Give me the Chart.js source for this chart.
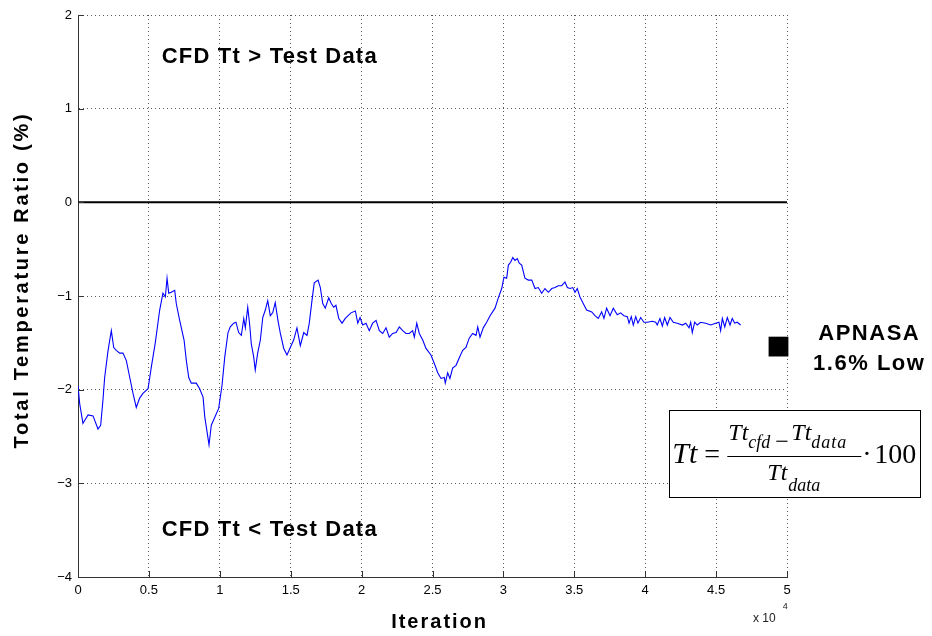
<!DOCTYPE html>
<html>
<head>
<meta charset="utf-8">
<script src="https://cdn.jsdelivr.net/npm/chart.js@4.4.1/dist/chart.umd.min.js"></script>
<style>
  body { margin: 0; background: #fff; }
  #wrap { width: 932px; height: 636px; }
</style>
</head>
<body>
<div id="wrap"><canvas id="ttchart" width="932" height="636"></canvas></div>
<script>
// iteration count and CFD/test total temperature ratio (%)
const iterations = [
  0, 120, 350, 470, 710, 1060, 1410, 1600, 1760, 1880,
  2120, 2350, 2520, 2700, 2940, 3170, 3410, 3650, 3880, 4110,
  4350, 4580, 4940, 5170, 5450, 5760, 5990, 6160, 6280, 6400,
  6580, 6820, 6930, 7170, 7480, 7640, 7810, 7990, 8340, 8580,
  8820, 8940, 9120, 9240, 9400, 9920, 10160, 10350, 10580, 10740,
  10980, 11140, 11330, 11520, 11690, 11800, 11970, 12110, 12220, 12390,
  12500, 12670, 12860, 13030, 13210, 13380, 13560, 13730, 13910, 14100,
  14270, 14510, 14740, 14970, 15210, 15440, 15680, 15920, 16150, 16310,
  16500, 16660, 16930, 17090, 17260, 17440, 17680, 17860, 18030, 18190,
  18390, 18620, 18850, 19250, 19560, 19730, 19890, 20080, 20310, 20540,
  20780, 21020, 21250, 21490, 21720, 21950, 22190, 22430, 22660, 22900,
  23130, 23360, 23600, 23720, 23890, 24070, 24310, 24540, 24890, 25130,
  25370, 25600, 25830, 25900, 26070, 26230, 26420, 26660, 26890, 27130,
  27360, 27590, 27830, 28070, 28190, 28350, 28580, 28820, 29060, 29410,
  29640, 29880, 30040, 30230, 30350, 30510, 30660, 30820, 30980, 31120,
  31290, 31520, 31760, 32000, 32230, 32460, 32700, 32930, 33170, 33410,
  33640, 33870, 34110, 34340, 34510, 34700, 34890, 35050, 35210, 35400,
  35630, 35870, 36230, 36460, 36690, 36930, 37090, 37280, 37520, 37750,
  38030, 38270, 38500, 38740, 38860, 39020, 39160, 39330, 39490, 39680,
  39910, 40150, 40500, 40740, 40850, 41040, 41210, 41370, 41560, 41750,
  41980, 42260, 42620, 42860, 43090, 43210, 43320, 43490, 43670, 43910,
  44270, 44620, 44970, 45200, 45320, 45440, 45610, 45790, 45980, 46140,
  46310, 46490, 46730
];
const ttRatio = [
  -1.96, -2.15, -2.36, -2.33, -2.27, -2.28, -2.42, -2.38, -2.11, -1.87,
  -1.58, -1.37, -1.55, -1.58, -1.61, -1.61, -1.69, -1.87, -2.04, -2.19,
  -2.09, -2.04, -1.99, -1.76, -1.50, -1.15, -0.97, -1.01, -0.81, -0.97,
  -0.96, -0.94, -1.08, -1.26, -1.47, -1.69, -1.87, -1.93, -1.93, -1.99,
  -2.08, -2.29, -2.47, -2.59, -2.38, -2.20, -1.95, -1.65, -1.39, -1.33,
  -1.29, -1.28, -1.39, -1.42, -1.24, -1.34, -1.12, -1.31, -1.51, -1.65,
  -1.79, -1.61, -1.47, -1.23, -1.15, -1.05, -1.21, -1.18, -1.07, -1.26,
  -1.40, -1.56, -1.63, -1.55, -1.47, -1.34, -1.53, -1.39, -1.42, -1.29,
  -1.05, -0.86, -0.83, -0.91, -1.08, -1.13, -1.02, -1.08, -1.12, -1.10,
  -1.24, -1.29, -1.24, -1.18, -1.16, -1.29, -1.23, -1.31, -1.29, -1.37,
  -1.29, -1.26, -1.37, -1.40, -1.34, -1.44, -1.40, -1.39, -1.33, -1.37,
  -1.40, -1.40, -1.37, -1.44, -1.29, -1.40, -1.47, -1.56, -1.63, -1.72,
  -1.82, -1.88, -1.87, -1.93, -1.82, -1.88, -1.77, -1.74, -1.66, -1.58,
  -1.55, -1.45, -1.40, -1.42, -1.33, -1.44, -1.34, -1.28, -1.21, -1.13,
  -1.02, -0.92, -0.80, -0.81, -0.67, -0.64, -0.59, -0.62, -0.60, -0.65,
  -0.67, -0.81, -0.83, -0.83, -0.92, -0.91, -0.97, -0.92, -0.96, -0.92,
  -0.91, -0.89, -0.89, -0.85, -0.91, -0.92, -0.91, -0.96, -0.92, -1.01,
  -1.08, -1.15, -1.17, -1.21, -1.24, -1.17, -1.24, -1.13, -1.21, -1.13,
  -1.20, -1.18, -1.21, -1.22, -1.29, -1.22, -1.31, -1.22, -1.29, -1.23,
  -1.28, -1.28, -1.27, -1.28, -1.31, -1.24, -1.32, -1.23, -1.31, -1.23,
  -1.28, -1.29, -1.31, -1.29, -1.34, -1.28, -1.39, -1.28, -1.31, -1.28,
  -1.29, -1.31, -1.29, -1.28, -1.37, -1.24, -1.33, -1.23, -1.31, -1.24,
  -1.29, -1.28, -1.31
];

// reference line at 0 and the APNASA result
const zeroLineX = [0, 50000];
const zeroLineY = [0, 0];
const apnasaX = [49400];
const apnasaY = [-1.54];

// axis ticks
const xTickValues = [0, 5000, 10000, 15000, 20000, 25000, 30000, 35000, 40000, 45000, 50000];
const yTickValues = [-4, -3, -2, -1, 0, 1, 2];

const sansFont = '"Liberation Sans", Arial, Helvetica, sans-serif';
const serifFont = '"Liberation Serif", "Times New Roman", serif';

Chart.defaults.color = '#000';
Chart.defaults.font.family = sansFont;
Chart.defaults.font.size = 13;

const toPoints = (xs, ys) => xs.map((v, i) => ({ x: v, y: ys[i] }));

// texts, inward ticks and the formula box
const annotations = {
  id: 'annotations',
  afterDraw(chart) {
    const { ctx, chartArea, scales: { x, y } } = chart;
    ctx.save();

    // inward tick marks like matlab
    ctx.strokeStyle = '#333';
    ctx.lineWidth = 1;
    ctx.beginPath();
    xTickValues.forEach(v => {
      const px = Math.round(x.getPixelForValue(v)) + 0.5;
      ctx.moveTo(px, chartArea.bottom);
      ctx.lineTo(px, chartArea.bottom - 6);
    });
    yTickValues.forEach(v => {
      const py = Math.round(y.getPixelForValue(v)) + 0.5;
      ctx.moveTo(chartArea.left, py);
      ctx.lineTo(chartArea.left + 6, py);
    });
    ctx.stroke();

    ctx.fillStyle = '#000';
    ctx.textBaseline = 'middle';

    ctx.font = 'bold 22px ' + sansFont;
    ctx.letterSpacing = '1.2px';
    ctx.textAlign = 'left';
    ctx.fillText('CFD Tt > Test Data', x.getPixelForValue(5900), y.getPixelForValue(1.55));
    ctx.fillText('CFD Tt < Test Data', x.getPixelForValue(5900), y.getPixelForValue(-3.5));

    ctx.font = 'bold 22px ' + sansFont;
    ctx.letterSpacing = '1.5px';
    ctx.textAlign = 'center';
    ctx.fillText('APNASA', x.getPixelForValue(55800), y.getPixelForValue(-1.41));
    ctx.fillText('1.6% Low', x.getPixelForValue(55800), y.getPixelForValue(-1.73));

    // axis titles
    ctx.font = 'bold 20px ' + sansFont;
    ctx.letterSpacing = '2px';
    ctx.fillText('Iteration', x.getPixelForValue(25500), chart.height - 14);
    ctx.save();
    ctx.translate(22, y.getPixelForValue(-0.83));
    ctx.rotate(-Math.PI / 2);
    ctx.letterSpacing = '2.7px';
    ctx.fillText('Total Temperature Ratio (%)', 0, 0);
    ctx.restore();

    // x 10^4 multiplier
    ctx.letterSpacing = '0px';
    ctx.fillStyle = '#222';
    ctx.textAlign = 'left';
    ctx.font = '12px ' + sansFont;
    ctx.fillText('x 10', x.getPixelForValue(47600), chart.height - 17);
    ctx.font = '9px ' + sansFont;
    ctx.fillText('4', x.getPixelForValue(49700), chart.height - 29);

    // formula box
    const bx = x.getPixelForValue(41700);
    const by = y.getPixelForValue(-2.22);
    const bw = 251, bh = 87;
    ctx.fillStyle = '#fff';
    ctx.fillRect(bx, by, bw, bh);
    ctx.strokeStyle = '#000';
    ctx.lineWidth = 1;
    ctx.strokeRect(Math.round(bx) + 0.5, Math.round(by) + 0.5, bw, bh);

    ctx.fillStyle = '#000';
    ctx.textBaseline = 'alphabetic';
    const put = (text, font, px, py) => {
      ctx.font = font;
      ctx.fillText(text, bx + px, by + py);
    };
    const big = 'italic 30px ' + serifFont;
    const mid = 'italic 24px ' + serifFont;
    const sub = 'italic 18px ' + serifFont;
    put('Tt', big, 3, 53);
    put('=', '28px ' + serifFont, 35, 53);
    put('Tt', mid, 59, 30);
    put('cfd', sub, 79, 38);
    put('\u2212', '24px ' + serifFont, 106, 39);
    put('Tt', mid, 122, 30);
    ctx.letterSpacing = '1px';
    put('data', sub, 142, 38);
    ctx.letterSpacing = '0px';
    put('Tt', mid, 98, 70);
    put('data', sub, 119, 81);
    put('\u00b7', '28px ' + serifFont, 193, 53);
    put('100', '28px ' + serifFont, 205, 53);
    ctx.beginPath();
    ctx.moveTo(bx + 58, Math.round(by + 46) + 0.5);
    ctx.lineTo(bx + 192, Math.round(by + 46) + 0.5);
    ctx.stroke();

    ctx.restore();
  }
};

new Chart(document.getElementById('ttchart'), {
  type: 'line',
  data: {
    datasets: [
      {
        label: 'CFD Tt ratio',
        data: toPoints(iterations, ttRatio),
        borderColor: 'rgb(0, 0, 255)',
        borderWidth: 1.1,
        pointRadius: 0,
        tension: 0
      },
      {
        label: 'zero',
        data: toPoints(zeroLineX, zeroLineY),
        borderColor: '#000',
        borderWidth: 2,
        pointRadius: 0
      },
      {
        label: 'APNASA',
        data: toPoints(apnasaX, apnasaY),
        showLine: false,
        pointStyle: 'rect',
        pointRadius: 14,
        pointBackgroundColor: '#000',
        pointBorderWidth: 0,
        clip: false
      }
    ]
  },
  options: {
    responsive: false,
    animation: false,
    layout: { padding: { left: 0, right: 145, top: 15, bottom: 0 } },
    plugins: {
      legend: { display: false },
      tooltip: { enabled: false }
    },
    scales: {
      x: {
        type: 'linear',
        min: 0,
        max: 50000,
        afterBuildTicks: scale => { scale.ticks = xTickValues.map(v => ({ value: v })); },
        afterFit: scale => { scale.height = 59; },
        ticks: {
          padding: 6,
          maxRotation: 0,
          callback: v => String(v / 10000)
        },
        grid: { color: '#555', lineWidth: 1, drawTicks: false },
        border: { color: '#333', width: 1, dash: [1, 3] }
      },
      y: {
        type: 'linear',
        min: -4,
        max: 2,
        afterBuildTicks: scale => { scale.ticks = yTickValues.map(v => ({ value: v })); },
        afterFit: scale => { scale.width = 78; },
        ticks: {
          padding: 6,
          callback: v => String(v).replace('-', '\u2212')
        },
        grid: { color: '#555', lineWidth: 1, drawTicks: false },
        border: { color: '#333', width: 1, dash: [1, 3] }
      }
    }
  },
  plugins: [annotations]
});
</script>
</body>
</html>
